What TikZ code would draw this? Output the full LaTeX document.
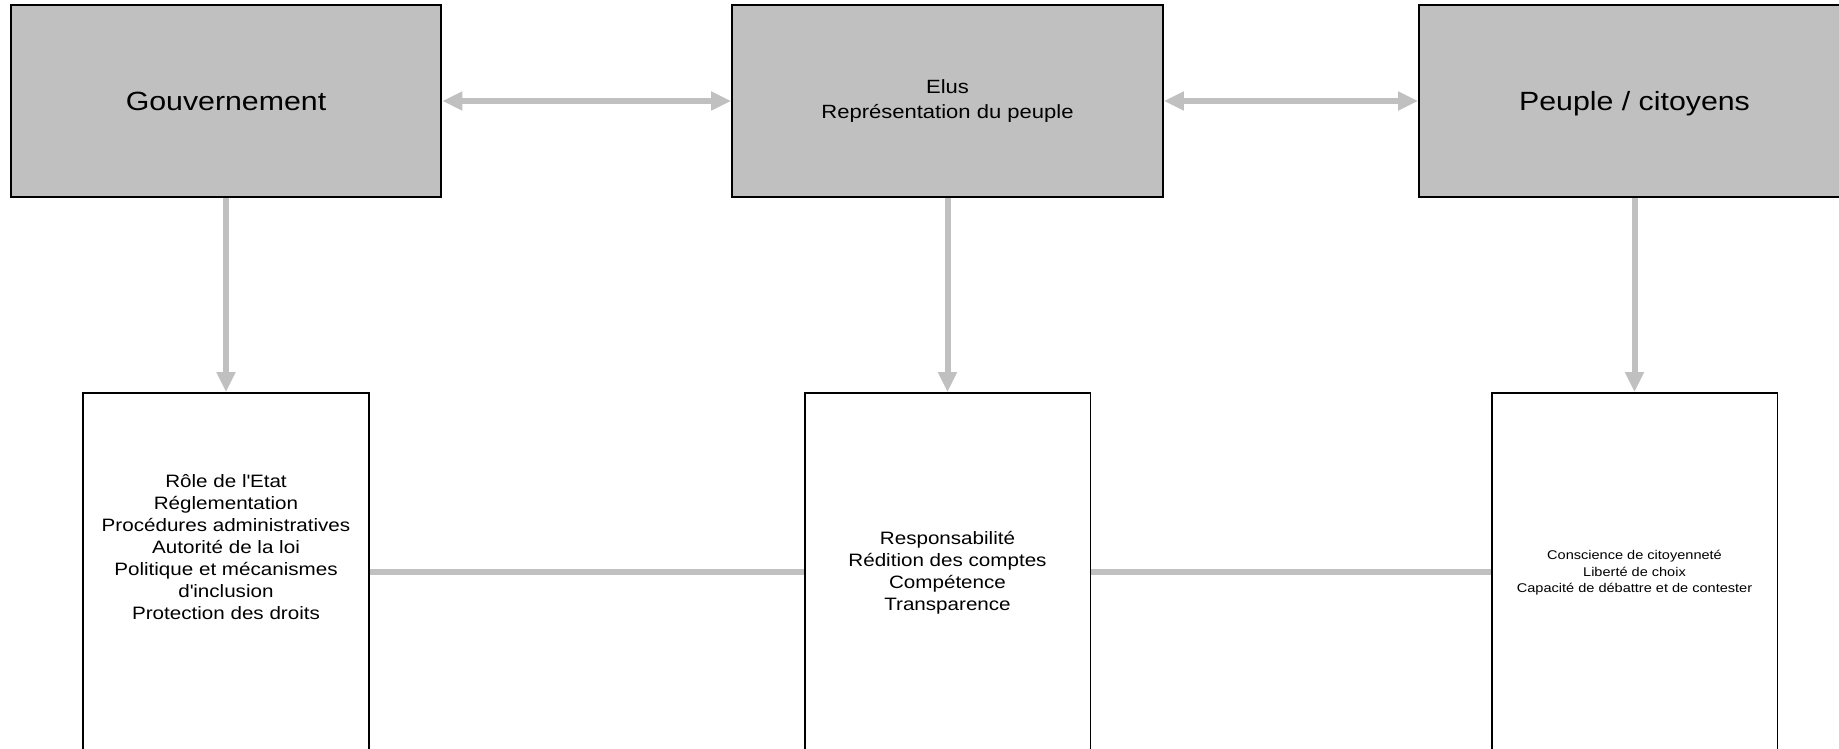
\documentclass[tikz,border=0pt]{standalone}
\usepackage{fontspec}
\setmainfont{Liberation Sans}[FakeStretch=1.15]
\usepackage{xcolor}
\usepackage{tikz}
\usetikzlibrary{arrows.meta}
\definecolor{gris}{HTML}{C0C0C0}
\tikzstyle{haut} = [draw, line width=1.1pt, fill=gris, minimum width=8.62cm, minimum height=3.84cm, inner sep=0pt, align=center]
\tikzstyle{bas} = [draw, line width=1.1pt, fill=white, minimum width=5.72cm, minimum height=7.16cm, inner sep=0pt]
\tikzstyle{fleche} = [gris, line width=0.12cm, -{Triangle[length=0.4cm,width=0.36cm]}]
\tikzstyle{allerretour} = [gris, line width=0.12cm, {Triangle[length=0.4cm,width=0.36cm]}-{Triangle[length=0.4cm,width=0.36cm]}]
\tikzstyle{trait} = [gris, line width=0.11cm]

\begin{document}
\begin{tikzpicture}[x=0.02cm,y=-0.02cm]
				\useasboundingbox (0,0) rectangle (1839,749);

				% Boites du haut:
				\node[haut, font=\fontsize{15}{18}\selectfont] (gouv) at (226,101) {Gouvernement};
				\node[haut, font=\fontsize{10.9}{14}\selectfont] (elus) at (947.5,101) {Elus\\Représentation du peuple};
				\node[haut, font=\fontsize{15}{18}\selectfont, text depth=0pt] (peuple) at (1634.5,101) {Peuple / citoyens};

				% Boites du bas (coupees par le bord de la page):
				\node[bas] (gouvbas) at (226,572) {};
				\node[bas] (elusbas) at (947.5,572) {};
				\node[bas] (peuplebas) at (1634.5,572) {};

				% Textes des boites du bas:
				\begin{scope}[align=center]
				\node[font=\fontsize{10.2}{12.5}\selectfont] (gouvtxt) at (226,547) {Rôle de l\textquotesingle Etat\\Réglementation\\Procédures administratives\\Autorité de la loi\\Politique et mécanismes\\d\textquotesingle inclusion\\Protection des droits};
				\node[font=\fontsize{10.2}{12.5}\selectfont] (elustxt) at (947.5,573) {Responsabilité\\Rédition des comptes\\Compétence\\Transparence};
				\node[font=\fontsize{7.2}{9.35}\selectfont] (peupletxt) at (1634.5,573) {Conscience de citoyenneté\\Liberté de choix\\Capacité de débattre et de contester};
				\end{scope}

				% Liens:
				\draw[allerretour] (gouv.east) -- (elus.west);
				\draw[allerretour] (elus.east) -- (peuple.west);
				\draw[fleche] (gouv.south) -- (gouvbas.north);
				\draw[fleche] (elus.south) -- (elusbas.north);
				\draw[fleche] (peuple.south) -- (peuplebas.north);
				\draw[trait] (gouvbas.east) -- (elusbas.west);
				\draw[trait] (elusbas.east) -- (peuplebas.west);
\end{tikzpicture}
\end{document}
